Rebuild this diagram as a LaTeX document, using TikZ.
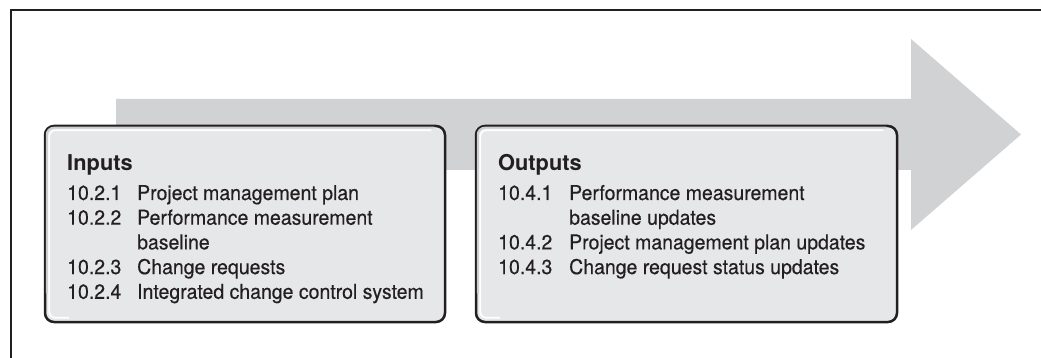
\documentclass[tikz,border=0pt]{standalone}
\usepackage{fontspec}
\setmainfont{TeX Gyre Heros}
\newfontfamily\itemfont[FakeStretch=0.95,FakeBold=0.35]{TeX Gyre Heros}
\definecolor{arrowgray}{HTML}{D1D2D4}
\definecolor{boxfill}{HTML}{E6E7E8}
\definecolor{bandgray}{HTML}{CDCED0}
\definecolor{ink}{HTML}{231F20}
\tikzset{
  frameline/.style={draw=ink, line width=2.5pt},
  bigarrow/.style={fill=arrowgray, draw=none},
  procbox/.style={draw=ink, line width=2.5pt, fill=boxfill, rounded corners=9pt, inner sep=0pt},
  band/.style={draw=bandgray, line width=2pt, rounded corners=7pt},
  bevel/.style={draw=white, line width=1.8pt, rounded corners=6pt},
  head/.style={anchor=base west, inner sep=0pt, font=\fontsize{21.8}{26}\selectfont\bfseries, text=ink},
  item/.style={anchor=base west, inner sep=0pt, font=\itemfont\fontsize{20.5}{24.7}\selectfont, text=ink},
}
\begin{document}
\begin{tikzpicture}[x=1pt, y=-1pt]
\useasboundingbox (0,0) rectangle (1041,358);
\clip (0,0) rectangle (1041,358);
% frame
\draw[frameline] (11,370) -- (11,10) -- (1050,10);
% big arrow
\fill[bigarrow] (116,99) -- (911,99) -- (911,39) -- (1021,134.5) -- (911,230) -- (911,170) -- (116,170) -- cycle;
% boxes
\node[procbox, minimum width=400pt, minimum height=196pt] (inbox) at (245,224) {};
\node[procbox, minimum width=421pt, minimum height=196pt] (outbox) at (686.5,224) {};
\foreach \b in {inbox,outbox}{
  \draw[band] ([xshift=3pt,yshift=30pt]\b.south west) -- ([xshift=3pt,yshift=-3pt]\b.north west) -- ([xshift=-12pt,yshift=-3pt]\b.north east);
  \draw[bevel] ([xshift=25pt,yshift=5.5pt]\b.south west) -- ([xshift=5.5pt,yshift=5.5pt]\b.south west) -- ([xshift=5.5pt,yshift=-5.5pt]\b.north west) -- ([xshift=-15pt,yshift=-5.5pt]\b.north east);
}
% Inputs text
\node[head] (inhead) at (67,170.5) {Inputs};
\node[item] (in1n) at (67,200) {10.2.1};
\node[item] (in1t) at (137,200) {Project management plan};
\node[item] (in2n) at (67,224.7) {10.2.2};
\node[item] (in2t) at (137,224.7) {Performance measurement};
\node[item] (in2u) at (137,249.4) {baseline};
\node[item] (in3n) at (67,274.1) {10.2.3};
\node[item] (in3t) at (137,274.1) {Change requests};
\node[item] (in4n) at (67,298.8) {10.2.4};
\node[item] (in4t) at (137,298.8) {Integrated change control system};
% Outputs text
\node[head] (outhead) at (498,170.5) {Outputs};
\node[item] (out1n) at (498,200) {10.4.1};
\node[item] (out1t) at (569,200) {Performance measurement};
\node[item] (out1u) at (569,224.7) {baseline updates};
\node[item] (out2n) at (498,249.4) {10.4.2};
\node[item] (out2t) at (569,249.4) {Project management plan updates};
\node[item] (out3n) at (498,274.1) {10.4.3};
\node[item] (out3t) at (569,274.1) {Change request status updates};
\end{tikzpicture}
\end{document}
